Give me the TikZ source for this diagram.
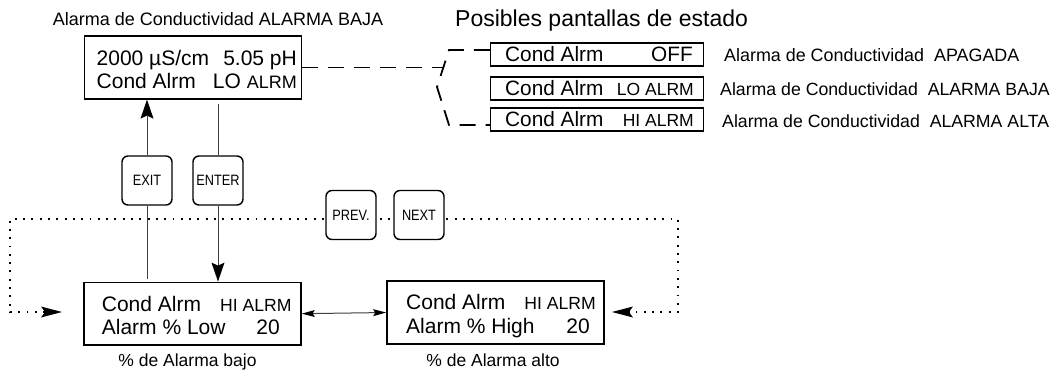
\documentclass[tikz,border=0pt]{standalone}
\usepackage{fontspec}
\setmainfont{Liberation Sans}
\newfontfamily\keyfont[FakeStretch=0.85]{Liberation Sans}
\usetikzlibrary{arrows.meta,backgrounds}
\newcommand\fsz[1]{\fontsize{#1}{#1}\selectfont}

\tikzset{
  dtip/.tip={Stealth[length=21pt,width=11pt,inset=4pt,line width=0pt,color=black]},
  btip/.tip={Stealth[length=19pt,width=13pt,inset=3pt,line width=0pt,color=black]},
  stip/.tip={Stealth[length=13pt,width=7pt,inset=2pt,line width=0pt,color=black]}
}

\begin{document}
\begin{tikzpicture}[x=1pt,y=-1pt,
  screen/.style={draw=black, line width=1.7pt, fill=white, inner sep=0pt,
                 minimum width=217pt, minimum height=62.5pt},
  status/.style={draw=black, line width=1.5pt, fill=white, inner sep=0pt,
                 minimum width=213pt, minimum height=23pt},
  key/.style={draw=black, line width=1.4pt, rounded corners=6pt, fill=white,
              minimum width=50pt, minimum height=49pt, inner sep=0pt,
              font=\keyfont\fsz{15}},
  lt/.style={inner sep=0pt, anchor=base west},
  rt/.style={inner sep=0pt, anchor=base east},
  ct/.style={inner sep=0pt, anchor=base},
  big/.style={font=\fsz{21}},
  link/.style={line width=1pt, draw=black!75},
  dots/.style={line width=1.9pt, dash pattern=on 1.9pt off 6.4pt},
  dashes/.style={line width=1.8pt, dash pattern=on 16pt off 10pt}]

\useasboundingbox (0,0) rectangle (1050,372);

% ---------- headings ----------
\node[ct, font=\fsz{18}] (title) at (218,25) {Alarma de Conductividad ALARMA BAJA};
\node[lt, font=\fsz{23}] (head) at (455,26.5) {Posibles pantallas de estado};

% ---------- main display ----------
\node[screen] (main) at (193,67.5) {};
\node[lt,big] (m1) at (96.5,65) {2000 µS/cm};
\node[rt,big] (m2) at (297,65) {5.05 pH};
\node[lt,big] (m3) at (96.5,88) {Cond Alrm};
\node[rt,big] (m4) at (297,88) {LO {\fsz{18}ALRM}};

% ---------- status screens ----------
\node[status] (off) at (597,54.5) {};
\node[status] (lo)  at (597,88.5) {};
\node[status] (hi)  at (597,119.5) {};
\node[lt, font=\fsz{20.8}] (s1) at (505,61.5) {Cond Alrm};
\node[rt, font=\fsz{20.8}] (s2) at (693,61.5) {OFF};
\node[lt, font=\fsz{20.8}] (s3) at (505,95) {Cond Alrm};
\node[rt, font=\fsz{17.5}] (s4) at (694,95) {LO ALRM};
\node[lt, font=\fsz{20.8}] (s5) at (505,126.5) {Cond Alrm};
\node[rt, font=\fsz{17.5}] (s6) at (694,126.5) {HI ALRM};
\node[lt, font=\fsz{17.9}] (d1) at (724,61.5) {Alarma de Conductividad\ \ APAGADA};
\node[lt, font=\fsz{17.7}] (d2) at (720,95) {Alarma de Conductividad\ \ ALARMA BAJA};
\node[lt, font=\fsz{17.7}] (d3) at (722,127) {Alarma de Conductividad\ \ ALARMA ALTA};

% ---------- keys ----------
\node[key] (exit)  at (147,180.5) {EXIT};
\node[key] (enter) at (218,180.5) {ENTER};
\node[key] (prev)  at (351,215) {PREV.};
\node[key] (next)  at (419,215) {NEXT};

% ---------- alarm set-point screens ----------
\node[screen] (low)  at (192.4,313.7) {};
\node[lt,big] (l1) at (101.7,311) {Cond Alrm};
\node[rt, font=\fsz{17.6}] (l2) at (291.7,311) {HI ALRM};
\node[lt,big] (l3) at (101.7,334.7) {Alarm \% Low};
\node[rt,big] (l4) at (280,334.7) {20};
\node[ct, font=\fsz{17.5}] (lcap) at (187.5,366.7) {\% de Alarma bajo};

\node[screen] (high) at (495.5,312.5) {};
\node[lt,big] (h1) at (406,309.5) {Cond Alrm};
\node[rt, font=\fsz{17.6}] (h2) at (596,309.5) {HI ALRM};
\node[lt,big] (h3) at (406,333) {Alarm \% High};
\node[rt,big] (h4) at (590,333) {20};
\node[ct, font=\fsz{17.5}] (hcap) at (493,366.7) {\% de Alarma alto};

% ---------- connectors ----------
\coordinate (join) at (443,67.5);
\coordinate (ftop) at (449,50);
\coordinate (fmid) at (437,87);
\coordinate (fbot) at (449,125);
\draw[dashes] (main.east) -- (join);
\draw[dashes] ([yshift=4.5pt]off.west) -- (ftop) -- (fmid) -- (fbot) -- ([yshift=-5.5pt]hi.west);

\draw[link, -btip] (exit.north) -- (exit.north |- main.south);
\draw[link] (exit.south) -- ([yshift=3pt]exit.south |- low.north);
\draw[link] ([yshift=-4pt]enter.north |- main.south) -- (enter.north);
\draw[link, -btip] (enter.south) -- (enter.south |- low.north);

\draw[link, stip-stip] (low.east) -- (high.west);

\begin{scope}[on background layer]
  \fill[white] (0,0) rectangle (1050,372);
  \coordinate (ltip) at (62,312);
  \coordinate (lc) at (10,312);
  \coordinate (tl) at (10,219);
  \coordinate (tr) at (678,219);
  \coordinate (rc) at (678,312);
  \coordinate (rtip) at (612,312);
  \draw[dots, dtip-dtip]
    (ltip) -- (lc) -- (tl) -- (tr) -- (rc) -- (rtip);
\end{scope}
\end{tikzpicture}
\end{document}
